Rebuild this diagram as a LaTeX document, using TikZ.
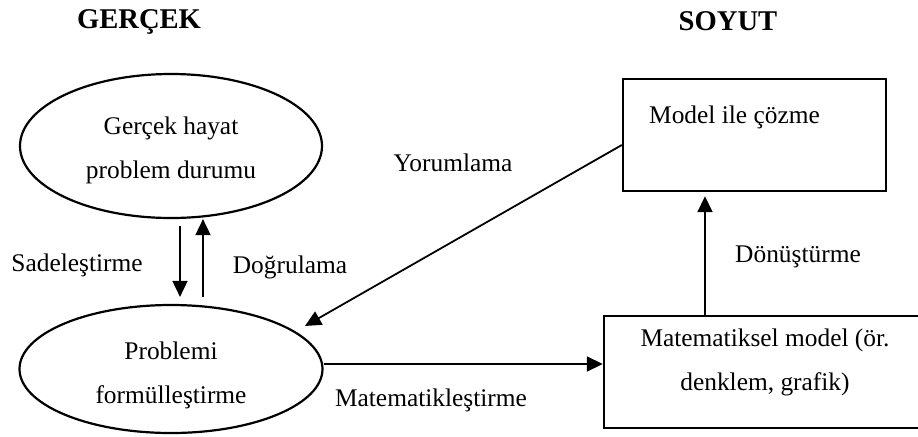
\documentclass[tikz,border=0pt]{standalone}
\usepackage{fontspec}
\setmainfont{Liberation Serif}
\usetikzlibrary{arrows.meta,shapes}

\begin{document}
\begin{tikzpicture}
          [x=0.5pt,y=-0.5pt,
            every node/.style={font=\fontsize{12.7}{22}\selectfont,align=center},
            oval/.style={ellipse,draw,line width=1.1pt,inner sep=0pt},
            box/.style={rectangle,draw,line width=1.2pt},
            word/.style={draw=none,fill=none,inner sep=1pt},
            title/.style={font=\fontsize{14.3}{16}\selectfont\bfseries},
            arr/.style={line width=0.9pt,-{Triangle[length=8pt,width=7.5pt]}},
          ]
          \useasboundingbox (0,0) rectangle (918,436);

          \node[title] (gercek) at (139,22) {GERÇEK};
          \node[title] (soyut) at (728,21) {SOYUT};

          % shapes
          \node[oval,minimum width=151pt,minimum height=72pt] (hayat) at (171,146) {};
          \node[oval,minimum width=151.5pt,minimum height=64pt] (formul) at (171,369) {};
          \node[box,minimum width=131.5pt,minimum height=56pt] (model) at (754.5,135) {};
          \node[box,minimum width=162pt,minimum height=56pt] (mat) at (766,372) {};

          % texts in the shapes
          \node[word] (hayattxt) at (171,150) {Gerçek hayat\\problem durumu};
          \node[word] (formultxt) at (171,375) {Problemi\\formülleştirme};
          \node[word,anchor=north west] (modeltxt) at ([shift={(12.5pt,-13pt)}]model.north west) {Model ile çözme};
          \node[word] (mattxt) at (765,362) {Matematiksel model (ör.\\denklem, grafik)};

          \draw[arr] ([xshift=4.5pt,yshift=-3.5pt]hayat.south) -- ([xshift=4.5pt,yshift=3.5pt]formul.north);
          \draw[arr] ([xshift=16pt,yshift=3.5pt]formul.north) -- ([xshift=16pt]hayat.south);
          \draw[arr] ([yshift=2.5pt]formul.east) -- ([yshift=2.5pt]formul.east -| mat.west);
          \draw[arr] ([xshift=-30.5pt]mat.north) -- ([xshift=-30.5pt,yshift=-2pt]mat.north |- model.south);
          \coordinate (yorumend) at (305,326);
          \draw[arr] ([yshift=-5pt]model.west) -- (yorumend);

          \node[word] (sade) at (77,265) {Sadeleştirme};
          \node[word] (dogru) at (290,267) {Doğrulama};
          \node[word] (yorum) at (453,163) {Yorumlama};
          \node[word] (donus) at (798,257) {Dönüştürme};
          \node[word] (matem) at (431,400) {Matematikleştirme};
        \end{tikzpicture}
\end{document}
